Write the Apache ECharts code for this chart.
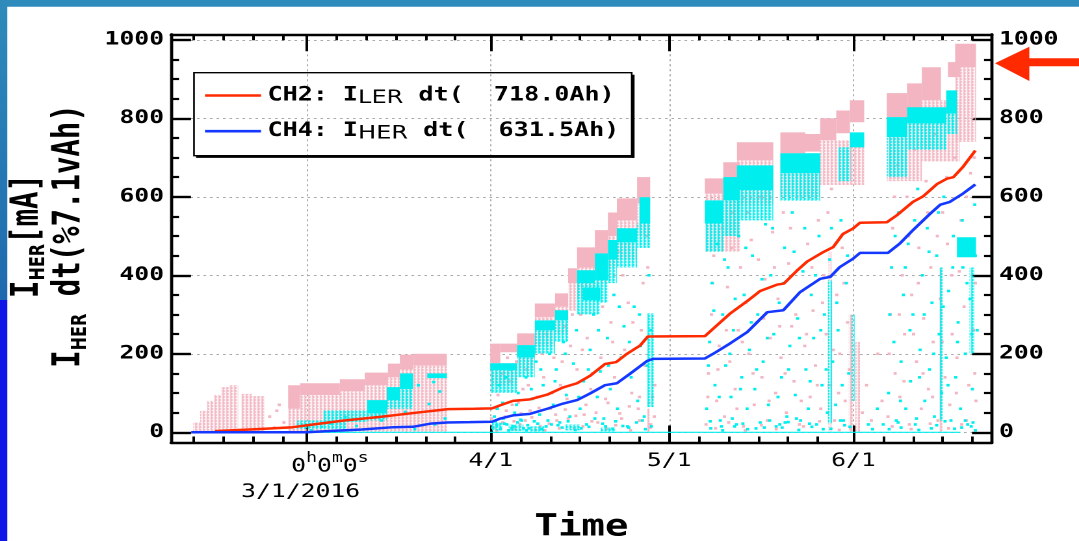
<!DOCTYPE html>
<html>
<head>
<meta charset="utf-8">
<script src="https://cdn.jsdelivr.net/npm/echarts@6/dist/echarts.min.js"></script>
<style>
  html, body { margin: 0; padding: 0; background: #fff; overflow: hidden; }
  #stage { width: 1079px; height: 541px; position: relative; overflow: hidden; background: #fff; }
  /* the plot is laid out on a narrower canvas and widened, giving the broad lettering of the print */
  #chart { width: 830px; height: 541px; transform: scaleX(1.3); transform-origin: 0 0; }
</style>
</head>
<body>
<div id="stage"><div id="chart"></div></div>
<script>
// Time runs in days from the axis offset 2016-03-01 00:00:00.
const X_MIN = -22.8, X_MAX = 115.3;
const Y_MIN = -26, Y_MAX = 1014;

const monthStartDays = [0, 31, 61, 92];
const monthLabels = ['3/1/2016', '4/1', '5/1', '6/1'];
const offsetLabel = ['0', 'h', '0', 'm', '0', 's'];
const minorTickDays = [-19, -14, -9, -4, 5, 10, 15, 20, 25, 36, 41, 46, 51, 56,
                       66, 71, 76, 81, 86, 97, 102, 107, 112];
const yTickValues = [0, 200, 400, 600, 800, 1000];

const seriesNames = ['CH2', 'CH4'];
const ringNames = ['LER', 'HER'];

// CH2: integrated LER current
const lerIntegral = [[-15.4,3],[-8.2,8],[-2.3,13],[0.6,19],[6.3,30],[12.2,39],[17.9,49],[23.8,59],
  [28.3,60],[31.2,61],[32.6,69],[34.7,80],[37.6,84],[40.5,96],[43.1,114],[45.5,125],[47.7,144],
  [50.2,174],[52.1,179],[53.9,200],[56.1,221],[57.4,244],[67.0,245],[68.4,264],[71.2,302],
  [74.1,334],[76.3,360],[79.1,376],[80.3,379],[82.5,412],[84.2,435],[86.9,459],[88.6,472],
  [90.2,505],[91.9,519],[93.1,534],[97.6,535],[99.3,553],[102.0,587],[103.7,601],[106.1,633],
  [107.7,646],[108.8,650],[110.4,676],[112.5,718.0]];

// CH4: integrated HER current
const herIntegral = [[-19.4,0],[0.1,0],[3.5,3],[9.3,7],[14.6,13],[17.9,14],[20.8,22],[23.6,25],
  [27.5,26],[31.2,27],[32.6,35],[34.7,43],[37.6,47],[40.5,60],[43.1,73],[45.5,82],[47.7,99],
  [50.2,120],[52.2,125],[54.4,149],[57.3,182],[58.3,187],[67.0,188],[68.4,200],[71.2,226],
  [74.1,255],[77.5,306],[80.2,311],[83.0,357],[86.4,391],[88.1,396],[89.7,421],[91.9,442],
  [93.1,457],[97.8,457],[99.8,481],[102.0,515],[104.9,557],[106.6,580],[108.2,587],[110.4,608],
  [112.5,631.5]];

// LER current samples [mA]: crowded stretches [dayFrom, dayTo, low, high]
const lerDense = [[-3.1,-1.1,60,120],[-1.1,5.6,95,125],[5.6,9.8,105,135],[9.8,13.7,120,152],
  [13.7,15.7,140,175],[15.7,17.9,160,198],[17.9,23.6,170,200],
  [30.9,32.6,176,226],[32.6,35.4,204,226],[35.4,38.4,222,252],[38.4,41.8,293,328],[41.8,44.0,320,354],
  [44.0,45.5,380,418],[45.5,48.5,420,471],[48.5,50.7,456,515],[50.7,52.2,500,560],[52.2,55.6,540,596],
  [55.6,57.8,583,650],
  [67.0,70.1,608,647],[70.1,72.9,624,688],[72.4,78.5,693,739],[79.7,83.9,711,764],[83.9,86.4,715,760],
  [86.4,89.1,744,800],[89.1,91.4,762,820],[91.4,93.8,790,846],
  [97.6,101.0,803,864],[101.0,103.5,820,889],[103.5,106.7,846,930],[107.9,109.9,905,943],[109.1,112.6,930,990]];

// LER current samples [mA]: thinner stretches and streaks
const lerHaze = [[-19.1,-17.9,0,25],[-17.9,-16.7,0,55],[-16.7,-15.6,0,80],[-15.6,-14.4,0,95],
  [-14.4,-13.0,0,115],[-13.0,-11.5,0,120],[-11.0,-9.2,0,98],[-9.2,-7.0,0,92],
  [-3.1,-1.1,0,60],[-1.1,5.6,0,95],[5.6,9.8,0,105],[9.8,13.7,0,120],[13.7,15.7,0,140],[15.7,17.9,0,160],[17.9,23.6,0,170],
  [30.9,35.4,120,176],[35.4,38.4,160,222],[38.4,41.8,220,293],[41.8,44.0,250,320],[44.0,45.5,310,380],
  [45.5,48.5,340,420],[48.5,50.7,380,456],[50.7,52.2,420,500],[52.2,55.6,440,540],[55.6,57.8,500,583],
  [67.0,72.9,460,608],[72.4,78.5,580,693],[79.7,86.4,600,711],[86.4,93.8,630,744],
  [97.6,103.5,640,803],[103.5,109.9,690,846],[109.1,112.6,740,930],
  [57.3,57.7,0,60],[87.8,88.3,0,460],[91.2,91.9,0,300],[92.3,93.1,0,230],[106.4,107.0,0,420]];

const lerDots = [[-6.2,40],[-5.4,12],[-4.6,70],[-3.8,25],[-5.0,55],
  [31.5,12],[32.2,95],[32.8,150],[33.4,40],[34.1,130],[34.6,70],[35.3,180],[35.9,20],[36.4,110],[37.0,160],
  [37.6,55],[38.2,210],[38.8,90],[39.3,15],[39.9,140],[40.4,250],[41.0,60],[41.6,190],[42.1,30],[42.7,120],
  [43.3,270],[43.8,85],[44.4,220],[45.0,10],[45.5,160],[46.1,300],[46.7,45],[47.2,240],[47.8,110],[48.4,350],
  [49.0,25],[49.5,190],[50.1,400],[50.7,75],[51.2,280],[51.8,140],[52.4,460],[53.0,35],[53.5,210],[54.1,330],
  [54.7,100],[55.2,500],[55.8,60],[56.3,260],[56.9,170],[57.4,420],[57.9,20],[58.2,90],[58.6,120],
  [32,5],[33,25],[35,8],[36.8,30],[38.5,6],[40.8,22],[42.5,10],[44,35],[46.5,15],[48,28],[50.5,9],[52,18],
  [54.5,5],[56,30],[57.8,12],[58.5,40],
  [31.9,60],[33.8,190],[35.6,75],[37.3,120],[39.6,200],[41.3,100],[43.0,180],[44.7,300],[46.4,210],[48.1,150],
  [49.8,320],[51.5,230],[53.2,400],[54.9,280],[56.6,380],[57.2,500],
  [31.1,35],[33.6,55],[34.9,28],[36.1,48],[37.9,38],[39.1,62],[40.1,5],[41.9,45],[43.5,58],[45.3,42],[47.0,70],
  [48.7,50],[50.3,85],[52.7,48],[54.3,66],[56.0,90],[57.6,75],
  [67.2,20],[67.6,150],[68.1,300],[68.5,450],[69.0,80],[69.4,220],[69.9,520],[70.3,40],[70.8,370],[71.2,180],
  [71.7,560],[72.1,110],[72.6,260],[73.0,420],[73.5,15],[73.9,330],[74.4,200],[74.8,490],[75.3,70],[75.7,280],
  [76.2,600],[76.6,140],[77.1,390],[77.5,30],[78.0,240],[78.4,510],[78.9,100],[79.3,340],[79.8,190],[80.2,560],
  [80.7,50],[81.1,430],[81.6,270],[82.0,130],[82.5,600],[82.9,20],[83.4,360],[83.8,220],[84.3,480],[84.7,90],
  [85.2,310],[85.6,170],[86.1,540],[86.5,60],[87.0,400],[87.4,250],[87.9,120],[88.3,620],[88.8,30],[89.2,350],
  [89.7,200],[90.1,470],[90.6,80],[91.0,280],[91.5,10],
  [67.5,90],[68.3,380],[69.2,160],[70.6,260],[71.5,470],[72.4,60],[73.3,230],[74.2,560],[75.1,150],[76.0,440],
  [76.9,290],[77.8,80],[78.7,420],[79.6,270],[80.5,150],[81.4,520],[82.3,300],[83.2,80],[84.1,250],[85.0,420],
  [85.9,120],[86.8,330],[87.7,560],[88.6,210],[89.5,100],[90.4,380],[91.3,160],
  [68.8,10],[71.0,25],[73.8,5],[76.5,18],[79.0,8],[83.6,15],[86.3,28],[89.6,6],
  [93.5,50],[94.2,120],[95,30],[96.1,200],[96.8,80],
  [97.8,40],[98.2,300],[98.6,520],[99.0,150],[99.4,680],[99.8,90],[100.2,400],[100.6,250],[101.0,600],[101.4,20],
  [101.8,350],[102.2,720],[102.6,180],[103.0,470],[103.4,60],[103.8,290],[104.2,640],[104.6,110],[105.0,420],
  [105.4,230],[105.8,760],[106.2,30],[106.6,340],[107.0,560],[107.4,140],[107.8,480],[108.2,70],[108.6,250],
  [109.0,700],[109.4,190],[109.8,410],[110.2,20],[110.6,320],[111.0,600],[111.4,120],[111.8,450],[112.2,260],
  [112.6,80],[112.3,700],[112.5,380],
  [98.0,200],[98.9,600],[99.7,300],[100.5,130],[101.3,500],[102.1,250],[102.9,380],[103.7,150],[104.5,560],
  [105.3,90],[106.1,500],[106.9,230],[107.7,650],[108.5,400],[109.3,100],[110.1,540],[110.9,200],[111.7,660],
  [112.4,150],[98.5,15],[101.7,8],[104.9,22],[108.0,10],[111.0,30]];

// HER current samples [mA]
const herDense = [[10.2,13.5,48,82],[13.5,15.7,82,115],[15.7,17.9,110,150],[20.3,23.6,138,150],
  [30.9,35.4,158,176],[35.4,38.4,191,222],[38.4,41.8,260,285],[41.8,44.0,285,311],[45.5,48.5,380,413],
  [46.5,49.4,336,369],[48.5,50.7,387,456],[50.7,52.2,440,490],[52.2,55.6,484,520],[56.0,57.8,532,599],
  [67.0,70.1,532,591],[70.1,72.9,591,650],[72.4,78.5,617,680],[79.7,86.4,660,711],[91.4,93.8,726,764],
  [97.6,101.0,752,803],[101.0,107.6,787,828],[107.6,109.4,812,871],[109.4,112.6,446,497],
  [-1.1,110.0,-1.5,1.5]];

const herHaze = [[-1.6,6.8,8,30],[2.8,10.2,26,56],[10.2,13.5,30,48],[13.5,17.9,60,110],
  [30.9,35.4,100,158],[35.4,38.4,140,191],[38.4,41.8,200,260],[41.8,44.0,230,285],[45.5,49.4,300,380],
  [48.5,50.7,330,387],[50.7,52.2,380,440],[52.2,55.6,420,484],[55.6,57.8,470,532],
  [31.2,33.0,5,25],[34.0,36.5,3,20],[37.5,40.0,2,15],[43.5,46.0,5,20],[49.5,52.0,2,12],
  [67.0,70.1,460,532],[70.1,72.9,500,591],[72.4,78.5,540,617],[79.7,86.4,590,660],[89.5,91.5,640,726],
  [97.6,101.0,650,752],[101.0,107.6,720,787],[107.6,109.4,760,812],
  [57.3,58.4,64,303],[87.7,88.4,23,387],[91.7,92.2,80,300],[106.5,107.1,30,420],[111.5,112.4,200,420]];

const herDots = [[0.8,5],[2.5,14],[4.2,22],[6.5,38],[8.4,16],[10.9,62],[12.6,30],[14.8,92],[16.6,52],[18.8,120],
  [20.6,72],[22.4,104],[22.9,146],[21.4,128],[23.3,35],[21.6,20],[18.2,8],
  [31.6,40],[32.4,120],[33.0,75],[33.7,20],[34.3,160],[35.0,50],[35.6,100],[36.2,30],[36.9,140],[37.4,10],
  [38.0,85],[38.6,180],[39.2,45],[39.8,120],[40.3,15],[40.9,200],[41.5,70],[42.0,160],[42.6,25],[43.2,230],
  [43.7,95],[44.3,40],[44.9,175],[45.4,260],[46.0,60],[46.6,130],[47.1,20],[47.7,210],[48.3,300],[48.9,90],
  [49.4,155],[50.0,35],[50.6,240],[51.1,110],[51.7,350],[52.3,60],[52.9,190],[53.4,270],[54.0,15],[54.6,140],
  [55.1,320],[55.7,80],[56.2,220],[56.8,40],[57.3,170],[57.9,260],
  [31.3,12],[32,18],[32.6,8],[33.3,22],[34,5],[34.8,15],[35.5,25],[36.5,10],[37.2,18],[38.3,28],[39.5,8],
  [41.2,20],[43,12],[45.2,6],[47.5,14],[49.8,22],[51.5,9],[53.2,16],[55.5,25],[57,8],
  [31.8,28],[33.1,35],[34.5,10],[36.0,32],[37.0,5],[38.9,22],[40.6,30],[42.3,18],[44.0,28],[46.2,10],[48.5,35],
  [50.3,15],[52.0,28],[54.2,12],[56.5,30],[58.0,15],
  [32.1,60],[33.5,140],[35.3,70],[37.8,110],[39.4,160],[41.8,130],[43.5,200],[45.8,90],[47.4,160],[49.1,260],
  [50.8,170],[52.6,320],[54.3,230],[56.0,300],[57.6,400],
  [67.3,60],[67.8,230],[68.2,380],[68.7,120],[69.1,480],[69.6,30],[70.0,300],[70.5,170],[70.9,420],[71.4,90],
  [71.8,260],[72.3,20],[72.7,500],[73.2,140],[73.6,350],[74.1,60],[74.5,210],[75.0,450],[75.4,110],[75.9,300],
  [76.3,25],[76.8,180],[77.2,530],[77.7,70],[78.1,400],[78.6,250],[79.0,15],[79.5,330],[79.9,140],[80.4,470],
  [80.8,40],[81.3,220],[81.7,560],[82.2,95],[82.6,290],[83.1,30],[83.5,410],[84.0,160],[84.4,60],[84.9,350],
  [85.3,240],[85.8,20],[86.2,500],[86.7,120],[87.1,300],[87.6,50],[88.0,440],[88.5,180],[89.0,70],[89.4,260],
  [89.9,540],[90.3,30],[90.8,380],[91.2,150],
  [67.6,170],[68.5,310],[69.4,90],[70.3,440],[71.2,200],[72.1,340],[73.0,110],[73.9,470],[74.8,280],[75.7,160],
  [76.6,390],[77.5,240],[78.4,520],[79.3,90],[80.2,380],[81.1,160],[82.0,460],[82.9,240],[83.8,520],[84.7,130],
  [85.6,400],[86.5,260],[87.4,160],[88.3,520],[89.2,330],[90.1,120],[91.0,450],
  [68,10],[70,5],[72,15],[74.2,8],[77,12],[79.6,20],[80.5,25],[81,26],[82.8,6],[85,14],[88.2,9],[90.5,18],
  [67.9,28],[69.8,15],[71.6,35],[73.4,22],[75.6,10],[77.9,30],[80.0,12],[82.4,35],[84.6,22],[86.9,8],[89.8,30],
  [91.4,14],[95.2,8],[97.0,20],[94.5,20],[96,60],
  [97.9,100],[98.4,420],[98.8,230],[99.2,30],[99.6,560],[100.0,180],[100.4,350],[100.8,60],[101.2,480],[101.6,130],
  [102.0,300],[102.4,20],[102.8,620],[103.2,210],[103.6,400],[104.0,80],[104.4,520],[104.8,160],[105.2,330],
  [105.6,40],[106.0,450],[106.4,250],[106.8,100],[107.2,600],[107.6,190],[108.0,360],[108.4,30],[108.8,500],
  [109.2,140],[109.6,280],[110.0,60],[110.4,420],[110.8,200],[111.2,20],[111.6,340],[112.0,110],[112.4,580],
  [112.8,260],
  [98.1,300],[99.0,500],[99.9,80],[100.7,420],[101.5,260],[102.3,540],[103.1,140],[103.9,300],[104.7,460],
  [105.5,200],[106.3,560],[107.1,320],[107.9,120],[108.7,420],[109.5,230],[110.3,540],[111.1,380],[111.9,250],
  [112.5,450],
  [98,8],[100,12],[103,6],[106,18],[109,9],[110.8,30],[111.8,15],[112.5,5],
  [99.5,25],[102.6,35],[105.1,10],[107.4,28],[110.2,12],[112.1,25]];

const MONO = "'DejaVu Sans Mono', monospace";
const SANS = "'DejaVu Sans', sans-serif";
const PINK = '#f2b5c1', CYAN = '#00eeee', RED = '#ff2a00', BLUE = '#1438ff';
const S = 1.3;  // horizontal widening of the canvas

// columns of sample dots for the thinner stretches
function speckle(color) {
  const c = document.createElement('canvas');
  c.width = 3; c.height = 3;
  const g = c.getContext('2d');
  g.fillStyle = color;
  g.fillRect(0, 0, 2, 2);
  g.fillRect(0, 2, 1, 1);
  return { image: c, repeat: 'repeat' };
}

function bandItem(params, api) {
  const a = api.coord([api.value(0), api.value(3)]);
  const b = api.coord([api.value(1), api.value(2)]);
  return {
    type: 'rect',
    shape: { x: a[0], y: a[1], width: Math.max(b[0] - a[0], 1.2), height: Math.max(b[1] - a[1], 1.2) },
    style: api.style()
  };
}

function bandSeries(data, color, z) {
  return {
    type: 'custom', data: data, renderItem: bandItem, clip: true, silent: true, z: z,
    encode: { x: [0, 1], y: [2, 3] },
    itemStyle: { color: color }
  };
}

function dotSeries(data, color, z) {
  return {
    type: 'scatter', data: data, symbol: 'rect', symbolSize: [2.4, 2.6], silent: true, z: z,
    itemStyle: { color: color, opacity: 1 }
  };
}

const totals = [lerIntegral[lerIntegral.length - 1][1], herIntegral[herIntegral.length - 1][1]];

function monthLabel(v) {
  const i = monthStartDays.findIndex(d => Math.abs(d - v) < 1e-6);
  if (i < 0) return '';
  if (i === 0) {
    const head = offsetLabel.map((c, k) => (k % 2 ? '{os|' : '{o|') + c + '}').join('');
    return '{sp| }' + head + '\n{d|' + monthLabels[0] + '}{sq| }';
  }
  return monthLabels[i];
}

const tickStyle = { color: '#000', width: 2 };
const xBase = { type: 'value', min: X_MIN, max: X_MAX, splitLine: { show: false } };

const chart = echarts.init(document.getElementById('chart'), null, { renderer: 'canvas', devicePixelRatio: 2 });

chart.setOption({
  animation: false,
  backgroundColor: '#fff',
  grid: { left: 171 / S, right: 830 - 992 / S, top: 34.3, bottom: 541 - 442.5, containLabel: false, outerBoundsMode: 'none' },
  xAxis: [
    Object.assign({}, xBase, {
      position: 'bottom',
      axisLine: { show: true, onZero: false, lineStyle: { color: '#000', width: 2.4 } },
      axisTick: { show: true, inside: true, length: 17, customValues: monthStartDays, lineStyle: tickStyle },
      axisLabel: {
        show: true, customValues: monthStartDays, margin: 9, formatter: monthLabel,
        fontFamily: MONO, fontSize: 19, lineHeight: 19, color: '#000',
        rich: {
          sp: { width: 36, lineHeight: 24.5 },
          o: { fontFamily: MONO, fontSize: 19, lineHeight: 19, verticalAlign: 'bottom', color: '#000' },
          os: { fontFamily: MONO, fontSize: 14, lineHeight: 14, verticalAlign: 'top', color: '#000' },
          d: { fontFamily: MONO, fontSize: 19, lineHeight: 32, color: '#000' },
          sq: { width: 9, lineHeight: 32 }
        }
      },
      splitLine: { show: true, lineStyle: { color: '#a9a9a9', width: 1, type: [2, 3] } },
      name: 'Time', nameLocation: 'middle', nameGap: 60,
      nameTextStyle: { fontFamily: MONO, fontWeight: 'bold', fontSize: 30, color: '#000' }
    }),
    Object.assign({}, xBase, {
      position: 'bottom',
      axisLine: { show: false, onZero: false },
      axisTick: { show: true, inside: true, length: 6, customValues: minorTickDays, lineStyle: tickStyle },
      axisLabel: { show: false }
    }),
    Object.assign({}, xBase, {
      position: 'top',
      axisLine: { show: true, onZero: false, lineStyle: { color: '#000', width: 2.4 } },
      axisTick: { show: true, inside: true, length: 17, customValues: monthStartDays, lineStyle: tickStyle },
      axisLabel: { show: false }
    }),
    Object.assign({}, xBase, {
      position: 'top',
      axisLine: { show: false, onZero: false },
      axisTick: { show: true, inside: true, length: 6, customValues: minorTickDays, lineStyle: tickStyle },
      axisLabel: { show: false }
    })
  ],
  yAxis: [0, 1].map(k => ({
    type: 'value', min: Y_MIN, max: Y_MAX, position: k ? 'right' : 'left',
    axisLine: { show: true, onZero: false, lineStyle: { color: '#000', width: 2.4 } },
    axisTick: { show: true, inside: true, length: 20 / S, customValues: yTickValues, lineStyle: { color: '#000', width: 2.4 } },
    minorTick: { show: true, splitNumber: 4, length: 8 / S, lineStyle: { color: '#000', width: 2.2 } },
    axisLabel: {
      show: true, customValues: yTickValues, margin: 5.4, formatter: v => String(v),
      padding: [5, 0, 0, 0],
      fontFamily: MONO, fontWeight: 'bold', fontSize: 19, color: '#000'
    },
    splitLine: { show: k === 0, lineStyle: { color: '#a9a9a9', width: 1, type: [2, 3] } }
  })),
  legend: {
    data: seriesNames, orient: 'vertical', left: 205 / S, top: 86, padding: 0,
    icon: 'rect', itemWidth: 56 / S, itemHeight: 2.6, itemGap: 14.2, selectedMode: false,
    formatter: name => {
      const i = seriesNames.indexOf(name);
      return '{m|' + name + ': I}{sub|' + ringNames[i] + '}{m| dt(  ' + totals[i].toFixed(1) + 'Ah)}';
    },
    textStyle: {
      rich: {
        m: { fontFamily: MONO, fontWeight: 'bold', fontSize: 19.3, lineHeight: 24, color: '#000' },
        sub: { fontFamily: SANS, fontSize: 18.5, lineHeight: 12, verticalAlign: 'bottom', color: '#000' }
      }
    }
  },
  graphic: [
    { type: 'rect', silent: true, z: 100, shape: { x: 0, y: 0, width: 830, height: 6.7 }, style: { fill: '#2f8bbb' } },
    { type: 'rect', silent: true, z: 100, shape: { x: 0, y: 0, width: 7.3 / S, height: 300 },
      style: { fill: new echarts.graphic.LinearGradient(0, 0, 0, 1, [{ offset: 0, color: '#2f8bbb' }, { offset: 1, color: '#1f6aae' }]) } },
    { type: 'rect', silent: true, z: 100, shape: { x: 0, y: 300, width: 7.3 / S, height: 241 }, style: { fill: '#1016e6' } },
    { type: 'polygon', silent: true, z: 100,
      shape: { points: [[995 / S, 63.3], [1029.3 / S, 46.7], [1029.3 / S, 58.3], [830, 58.3], [830, 66.3], [1029.3 / S, 66.3], [1029.3 / S, 81]] },
      style: { fill: RED } },
    { type: 'rect', silent: true, z: 90, shape: { x: 194 / S + 1.6, y: 155.7, width: 437.7 / S, height: 2.2 }, style: { fill: '#000' } },
    { type: 'rect', silent: true, z: 90, shape: { x: 631.7 / S, y: 74.7, width: 2.2 / S + 0.5, height: 83.2 }, style: { fill: '#000' } },
    { type: 'rect', silent: true, z: 90, shape: { x: 194 / S, y: 72.7, width: 437.7 / S, height: 83 },
      style: { fill: 'none', stroke: '#000', lineWidth: 1.3 } },
    { type: 'text', silent: true, z: 90, x: 49 / S, y: 236, rotation: Math.PI / 2,
      style: {
        text: '{b|I}{s|HER}{b|[mA]}\n{b|I}{s|HER}{b| dt(%7.1vAh)}',
        align: 'center', verticalAlign: 'middle',
        rich: {
          b: { fontFamily: MONO, fontWeight: 'bold', fontSize: 29, lineHeight: 32, fill: '#000' },
          s: { fontFamily: SANS, fontWeight: 'bold', fontSize: 16, lineHeight: 20, verticalAlign: 'bottom', fill: '#000' }
        }
      } }
  ],
  series: [
    bandSeries(lerHaze, speckle(PINK), 1),
    bandSeries(lerDense, PINK, 1),
    dotSeries(lerDots, PINK, 1),
    bandSeries(herHaze, speckle(CYAN), 2),
    bandSeries(herDense, CYAN, 2),
    dotSeries(herDots, CYAN, 2),
    { name: seriesNames[0], type: 'line', data: lerIntegral, symbol: 'none', z: 3, silent: true,
      lineStyle: { color: RED, width: 2.5 }, itemStyle: { color: RED } },
    { name: seriesNames[1], type: 'line', data: herIntegral, symbol: 'none', z: 4, silent: true,
      lineStyle: { color: BLUE, width: 2.5 }, itemStyle: { color: BLUE } }
  ]
});
</script>
</body>
</html>
